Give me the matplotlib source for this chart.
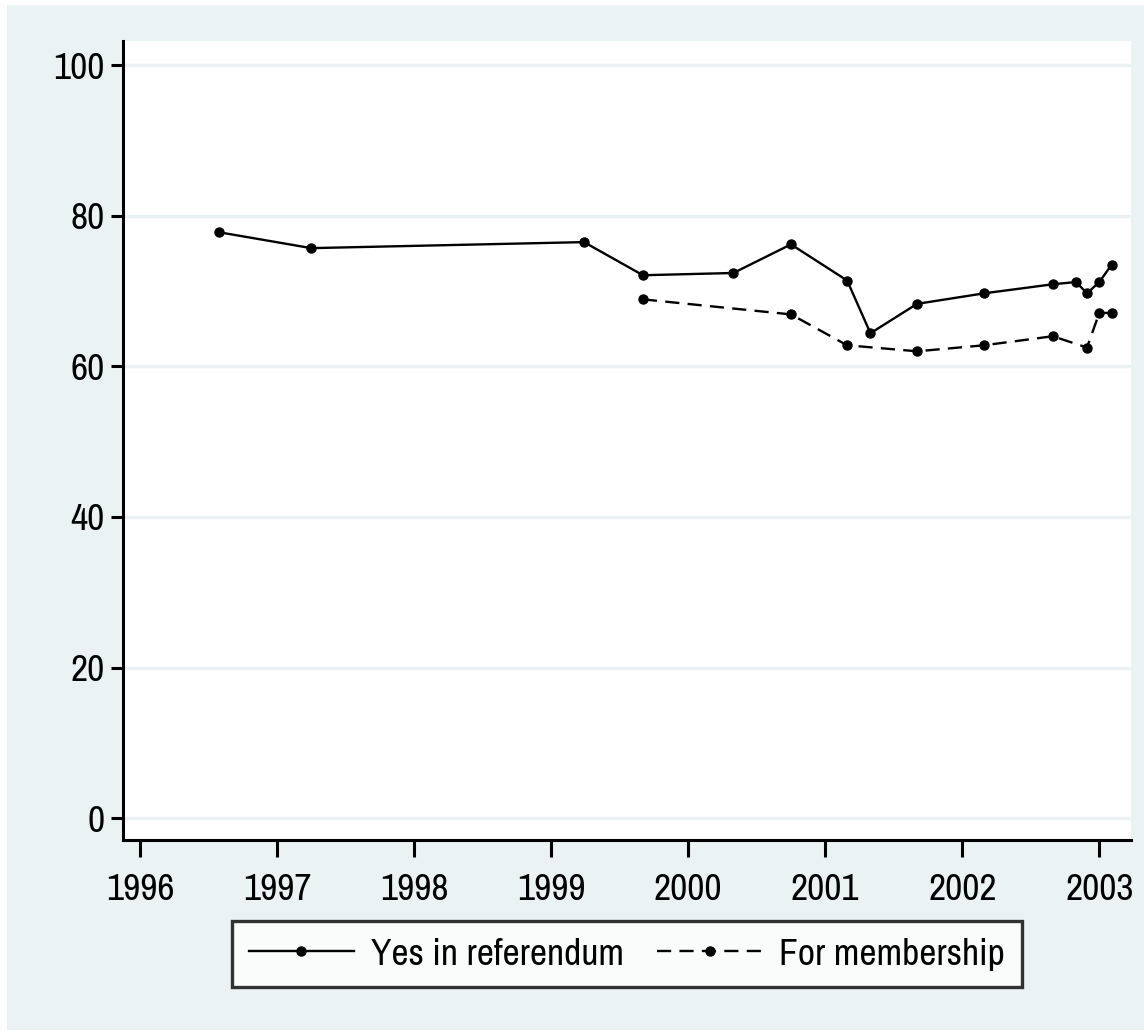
import matplotlib
matplotlib.use("Agg")
import matplotlib.pyplot as plt
from matplotlib.patches import Rectangle

# survey dates (decimal years) and percentages
yes_dates = [1996.58, 1997.25, 1999.24, 1999.67, 2000.33, 2000.75, 2001.16, 2001.33,
             2001.67, 2002.16, 2002.66, 2002.83, 2002.91, 2003.0, 2003.09]
yes_values = [77.8, 75.7, 76.5, 72.1, 72.4, 76.2, 71.4, 64.4,
              68.3, 69.7, 70.9, 71.2, 69.7, 71.2, 73.5]

member_dates = [1999.67, 2000.75, 2001.16, 2001.67, 2002.16, 2002.66, 2002.91, 2003.0, 2003.09]
member_values = [68.9, 66.9, 62.8, 62.0, 62.8, 64.0, 62.5, 67.1, 67.1]

years = [1996, 1997, 1998, 1999, 2000, 2001, 2002, 2003]
y_ticks = [0, 20, 40, 60, 80, 100]

bg = '#eaf2f3'
plt.rcParams['font.family'] = ['Archivo Narrow', 'DejaVu Sans']

fig = plt.figure(figsize=(11.44, 10.34), dpi=100)
fig.patch.set_facecolor('white')
fig.patches.append(Rectangle((7 / 1144, 0.004), 1 - 7 / 1144, 1 - 0.004 - 5 / 1034,
                             transform=fig.transFigure, facecolor=bg, edgecolor='none', zorder=-10))

ax = fig.add_axes([0.1075, 0.1876, 0.881, 0.7727])
ax.set_facecolor('white')

ax.plot(yes_dates, yes_values, color='black', lw=1.7, marker='o', ms=6.5,
        label='Yes in referendum')
ax.plot(member_dates, member_values, color='black', lw=1.7, marker='o', ms=6.5,
        dashes=(6, 3.5), label='For membership')

ax.set_xlim(1995.876, 2003.23)
ax.set_ylim(-2.9, 103.2)
ax.set_xticks(years)
ax.set_yticks(y_ticks)
ax.grid(axis='y', color=bg, lw=2.5)
ax.set_axisbelow(True)

for s in ['top', 'right']:
    ax.spines[s].set_visible(False)
for s in ['left', 'bottom']:
    ax.spines[s].set_linewidth(2.2)

ax.tick_params(axis='y', length=9, width=2.2, labelsize=27, pad=4)
ax.tick_params(axis='x', length=12, width=2.2, labelsize=27, pad=12)

leg = ax.legend(loc='upper center', bbox_to_anchor=(0.5, -0.101), ncol=2, fontsize=27,
                frameon=True, fancybox=False, handlelength=2.8, columnspacing=0.9,
                borderpad=0.45, handletextpad=0.45, borderaxespad=0)
leg.get_frame().set_edgecolor('black')
leg.get_frame().set_linewidth(2.4)

plt.savefig('out.png', dpi=100, facecolor=fig.get_facecolor())
